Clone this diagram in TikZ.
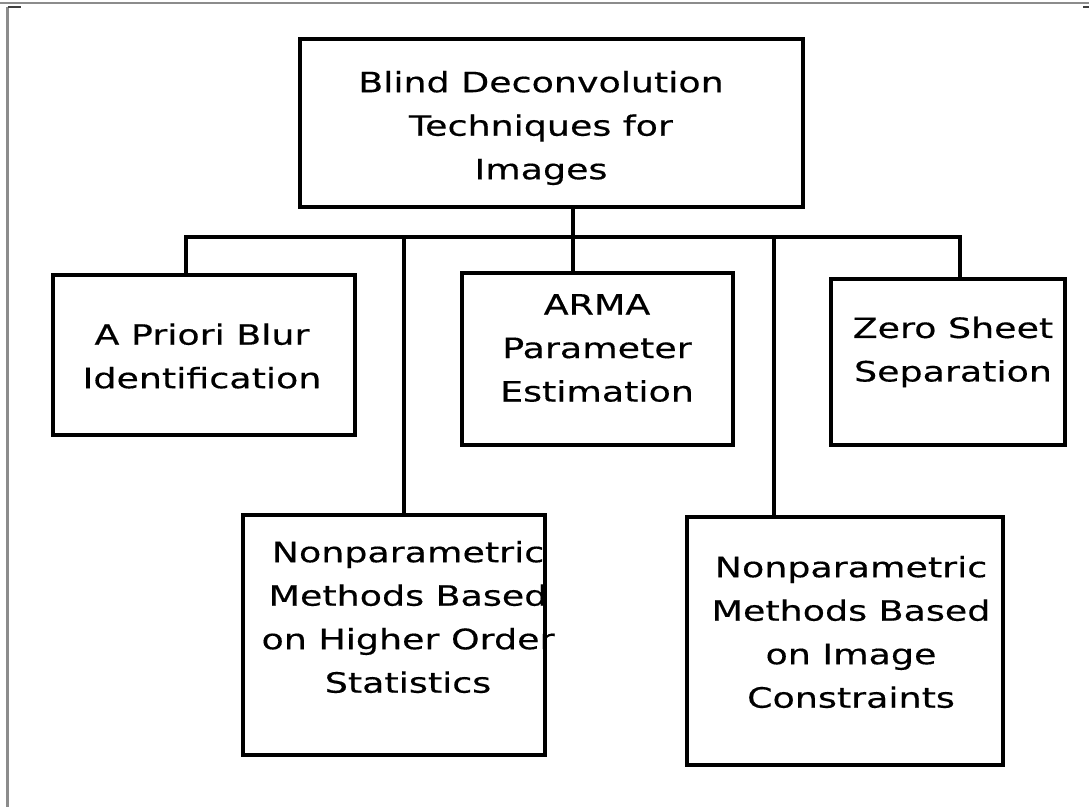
\documentclass[tikz,border=0pt]{standalone}
\usepackage{fontspec}
\setmainfont[FakeStretch=1.3,FakeBold=0.4]{DejaVu Sans}
\begin{document}
\begin{tikzpicture}[x=1pt,y=-1pt,
  box/.style={draw=black, line width=3.6pt, rectangle, inner sep=0pt, fill=white},
  txt/.style={inner sep=0pt, align=center, anchor=center, font=\fontsize{28}{43.5}\selectfont},
  conn/.style={draw=black, line width=3.4pt},
  frame/.style={draw=black!45, line width=2.5pt},
  tick/.style={draw=black!75, line width=1.8pt}]
\useasboundingbox (0,0) rectangle (1089,807);
% page frame remnants
\coordinate (fa) at (0,3);
\coordinate (fb) at (1089,3);
\coordinate (fc) at (7.5,7);
\coordinate (fd) at (7.5,807);
\coordinate (fe) at (21,7);
\coordinate (ff) at (1083,7);
\coordinate (fg) at (1089,7);
\draw[frame] (fa) -- (fb);
\draw[frame] (fc) -- (fd);
\draw[tick] (fc) -- (fe);
\draw[tick] (ff) -- (fg);
% boxes
\node[box, minimum width=503pt, minimum height=168pt] (root) at (551.5,123) {};
\node[box, minimum width=302pt, minimum height=160pt] (apriori) at (204,355) {};
\node[box, minimum width=271pt, minimum height=172pt] (arma) at (597.5,359) {};
\node[box, minimum width=234pt, minimum height=166pt] (zero) at (948,362) {};
\node[box, minimum width=302pt, minimum height=240pt] (npa) at (394,635) {};
\node[box, minimum width=316pt, minimum height=248pt] (npb) at (845,641) {};
% texts
\node[txt] (rootT) at (541,128) {Blind Deconvolution\\Techniques for\\Images};
\node[txt] (aprioriT) at (202,356) {A Priori Blur\\Identification};
\node[txt] (armaT) at (597,348) {ARMA\\Parameter\\Estimation};
\node[txt] (zeroT) at (953,352) {Zero Sheet\\Separation};
\node[txt] (npaT) at (408,617) {Nonparametric\\Methods Based\\on Higher Order\\Statistics};
\node[txt] (npbT) at (851,632) {Nonparametric\\Methods Based\\on Image\\Constraints};
% connectors
\coordinate (j) at (573,237);
\coordinate (ja) at (186,237);
\coordinate (jn) at (404,237);
\coordinate (jm) at (774,237);
\coordinate (jz) at (960,237);
\draw[conn] (root.south -| j) -- (j);
\draw[conn, line cap=rect] (ja) -- (jz);
\draw[conn] (ja) -- (ja |- apriori.north);
\draw[conn] (jn) -- (jn |- npa.north);
\draw[conn] (j) -- (j |- arma.north);
\draw[conn] (jm) -- (jm |- npb.north);
\draw[conn] (jz) -- (jz |- zero.north);
\end{tikzpicture}
\end{document}
